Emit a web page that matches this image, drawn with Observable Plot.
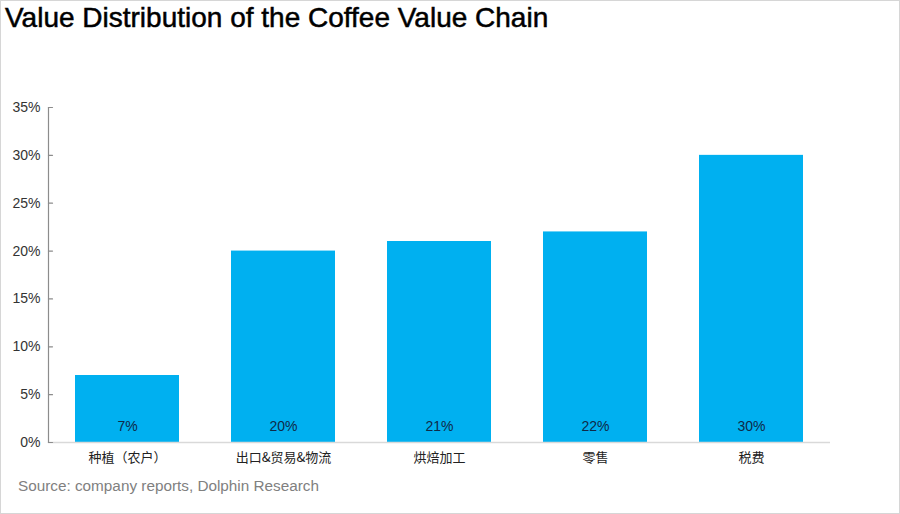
<!DOCTYPE html>
<html>
<head>
<meta charset="utf-8">
<script src="https://cdn.jsdelivr.net/npm/d3@7"></script>
<script src="https://cdn.jsdelivr.net/npm/@observablehq/plot@0.6"></script>
<style>
  html, body { margin: 0; padding: 0; background: #fff; }
  #wrap { position: relative; width: 900px; height: 514px; overflow: hidden; background: #fff;
          font-family: "Liberation Sans", Arial, "Noto Sans CJK SC", sans-serif; }
  #frame { position: absolute; left: 0; top: 0; width: 898px; height: 512px; border: 1px solid #d6d6d6; pointer-events: none; }
  #title { position: absolute; left: 5px; top: 2px; font-size: 28px; color: #000; white-space: nowrap;
           -webkit-text-stroke: 0.5px #000; line-height: 32px; }
  #chart { position: absolute; left: 0; top: 40px; }
  #source { position: absolute; left: 18px; top: 477px; font-size: 15.3px; color: #808080; white-space: nowrap; line-height: 18px; }
</style>
</head>
<body>
<div id="wrap">
  <div id="title">Value Distribution of the Coffee Value Chain</div>
  <div id="chart"></div>
  <div id="source">Source: company reports, Dolphin Research</div>
  <div id="frame"></div>
</div>
<script>
const categories = ["种植（农户）", "出口&贸易&物流", "烘焙加工", "零售", "税费"];
const shares = [0.07, 0.20, 0.21, 0.22, 0.30];
const yTicks = [0, 0.05, 0.10, 0.15, 0.20, 0.25, 0.30, 0.35];

const data = categories.map((c, i) => ({category: c, share: shares[i]}));
const pct = d => `${Math.round(d * 100)}%`;

const chart = Plot.plot({
  width: 900,
  height: 430,
  marginTop: 67,
  marginBottom: 28,
  marginLeft: 48,
  marginRight: 70,
  style: {fontFamily: '"Liberation Sans", Arial, "Noto Sans CJK SC", sans-serif', background: "transparent"},
  x: {domain: categories, paddingInner: 0.3355, paddingOuter: 0.166, label: null},
  y: {domain: [0, 0.35], label: null},
  marks: [
    Plot.barY(data, {x: "category", y: "share", fill: "#00B0F0"}),
    Plot.ruleY([0], {stroke: "#d9d9d9", strokeWidth: 1.5}),
    Plot.frame({anchor: "left", stroke: "#8c8c8c", strokeWidth: 1.2}),
    Plot.vector(yTicks, {
      y: d => d, frameAnchor: "left", length: 4, rotate: 90, anchor: "start",
      stroke: "#8c8c8c", strokeWidth: 1.2,
      shape: {draw(ctx, l) { ctx.moveTo(0, 0); ctx.lineTo(0, -l); }}
    }),
    Plot.axisY({ticks: yTicks, tickFormat: pct, tickSize: 0, tickPadding: 8, fontSize: 14, fill: "#333"}),
    Plot.axisX({tickSize: 0, tickPadding: 10, fontSize: 13, fill: "#222",
      fontFamily: '"Noto Sans CJK SC", "Liberation Sans", sans-serif'}),
    Plot.text(data, {x: "category", y: 0, text: d => pct(d.share), dy: -16, fontSize: 14, fill: "#0f2a48"})
  ]
});
document.getElementById("chart").appendChild(chart);
</script>
</body>
</html>
